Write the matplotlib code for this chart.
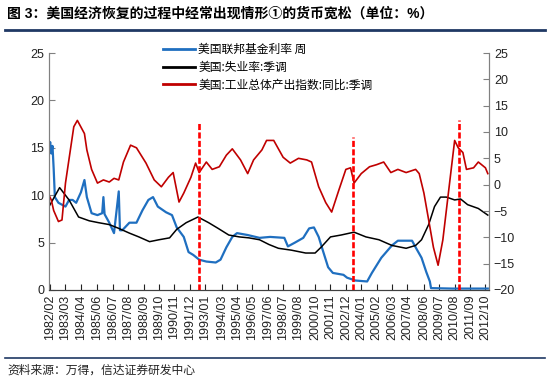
import matplotlib
matplotlib.use('Agg')
from matplotlib import pyplot as plt
from matplotlib.lines import Line2D
import pandas as pd

plt.rcParams['font.family'] = ['Liberation Sans', 'Noto Sans CJK SC']

title = '图 3：美国经济恢复的过程中经常出现情形①的货币宽松（单位：%）'
source = '资料来源：万得，信达证券研发中心'
series_names = ['美国联邦基金利率 周', '美国:失业率:季调', '美国:工业总体产出指数:同比:季调']

tick_labels = ['1982/02', '1983/03', '1984/04', '1985/06', '1986/07', '1987/08',
               '1988/09', '1989/10', '1990/11', '1991/12', '1993/01', '1994/03',
               '1995/04', '1996/05', '1997/06', '1998/07', '1999/08', '2000/10',
               '2001/11', '2002/12', '2004/01', '2005/02', '2006/03', '2007/04',
               '2008/06', '2009/07', '2010/08', '2011/09', '2012/10']

# fed funds rate, weekly (left axis)
fed_dates = ['1982-01', '1982-02', '1982-03', '1982-04', '1982-05', '1982-06',
             '1982-09', '1983-03', '1983-06', '1983-09', '1983-12', '1984-04',
             '1984-07', '1984-09', '1985-01', '1985-06', '1985-10', '1985-11',
             '1985-12', '1986-04', '1986-08', '1986-12', '1987-01', '1987-03',
             '1987-09', '1988-03', '1988-08', '1989-01', '1989-05', '1989-09',
             '1990-04', '1990-09', '1991-01', '1991-07', '1991-11', '1992-03',
             '1992-08', '1993-02', '1993-10', '1994-02', '1994-07', '1994-12',
             '1995-04', '1996-01', '1996-11', '1997-08', '1998-08', '1998-11',
             '1999-05', '1999-12', '2000-05', '2000-09', '2001-01', '2001-05',
             '2001-09', '2002-01', '2002-10', '2003-01', '2003-08', '2004-06',
             '2004-10', '2005-06', '2006-03', '2006-08', '2007-08', '2007-11',
             '2008-04', '2008-08', '2008-11', '2008-12', '2010-06', '2012-12']
fed_rate = [15.0, 15.6, 14.4, 15.2, 12.8, 9.8,
            9.2, 8.8, 9.5, 9.5, 9.2, 10.3,
            11.6, 9.8, 8.1, 7.9, 8.1, 9.8,
            8.0, 7.1, 6.0, 10.4, 6.3, 6.3,
            7.1, 7.1, 8.4, 9.5, 9.8, 8.8,
            8.2, 7.9, 6.6, 5.6, 4.0, 3.7,
            3.2, 3.0, 2.9, 3.2, 4.5, 5.6,
            6.0, 5.8, 5.5, 5.6, 5.5, 4.6,
            5.0, 5.5, 6.5, 6.6, 5.6, 4.0,
            2.4, 1.8, 1.6, 1.3, 1.0, 0.9,
            1.8, 3.4, 4.7, 5.2, 5.2, 4.5,
            3.4, 1.9, 0.9, 0.2, 0.15, 0.15]

# unemployment rate (left axis)
unemp_dates = ['1982-01', '1982-10', '1983-06', '1984-02', '1984-11', '1985-07',
               '1986-04', '1986-12', '1987-09', '1988-05', '1989-02', '1989-10',
               '1990-07', '1991-01', '1991-09', '1992-07', '1993-04', '1993-12',
               '1994-09', '1995-06', '1996-02', '1996-11', '1997-07', '1998-03',
               '1999-02', '2000-02', '2000-10', '2001-03', '2001-11', '2002-08',
               '2003-07', '2004-05', '2005-04', '2006-03', '2007-03', '2007-11',
               '2008-04', '2008-10', '2009-03', '2009-08', '2010-01', '2010-08',
               '2011-01', '2011-07', '2012-04', '2012-12']
unemp_rate = [8.8, 10.8, 9.5, 7.7, 7.3, 7.1,
              6.9, 6.5, 6.0, 5.6, 5.1, 5.3,
              5.5, 6.4, 7.1, 7.7, 7.1, 6.5,
              5.8, 5.6, 5.5, 5.3, 4.8, 4.4,
              4.2, 3.9, 3.9, 4.5, 5.6, 5.8,
              6.1, 5.6, 5.3, 4.7, 4.4, 4.7,
              5.3, 6.9, 8.8, 9.8, 9.8, 9.5,
              9.6, 9.0, 8.6, 7.9]

# industrial production yoy (right axis)
ip_dates = ['1982-01', '1982-03', '1982-05', '1982-09', '1982-12', '1983-03',
            '1983-10', '1984-01', '1984-07', '1984-09', '1985-01', '1985-06',
            '1985-11', '1986-04', '1986-08', '1986-12', '1987-04', '1987-10',
            '1988-03', '1988-11', '1989-06', '1989-12', '1990-06', '1990-10',
            '1991-03', '1991-07', '1992-01', '1992-05', '1992-08', '1993-02',
            '1993-07', '1994-01', '1994-07', '1994-12', '1995-07', '1996-01',
            '1996-06', '1997-01', '1997-05', '1997-11', '1998-07', '1999-01',
            '1999-08', '2000-03', '2000-07', '2001-01', '2001-07', '2001-12',
            '2002-06', '2002-12', '2003-04', '2003-07', '2004-01', '2004-08',
            '2005-02', '2005-08', '2006-02', '2006-08', '2007-03', '2007-11',
            '2008-02', '2008-06', '2008-10', '2009-02', '2009-06', '2009-10',
            '2010-03', '2010-08', '2010-11', '2011-03', '2011-06', '2011-12',
            '2012-04', '2012-10', '2012-12']
ip_yoy = [-2.0, -2.9, -4.9, -7.0, -6.7, 0.3,
          11.0, 12.2, 9.7, 6.6, 2.9, 0.3,
          0.9, 0.5, 1.2, 0.9, 4.3, 7.5,
          7.0, 4.1, 0.9, -0.4, 1.4, 2.3,
          -3.3, -1.6, 1.4, 4.1, 2.3, 4.3,
          2.9, 3.4, 5.6, 6.8, 4.7, 2.1,
          4.7, 6.6, 8.4, 8.4, 5.2, 4.1,
          5.0, 4.7, 4.3, -0.4, -3.4, -5.2,
          -1.1, 2.9, 3.2, 0.3, 2.1, 3.4,
          3.8, 4.3, 2.3, 2.9, 2.3, 2.9,
          2.1, -1.6, -6.7, -11.9, -15.3, -10.5,
          -1.1, 8.4, 7.0, 6.1, 2.9, 3.2,
          4.3, 3.2, 2.1]

# easing markers (right axis units for the top)
easing_dates = ['1992-08', '2003-06', '2010-12']
easing_top = [11.7, 9.0, 12.2]


def to_dates(values):
    return pd.to_datetime(values, format='%Y-%m')


fig = plt.figure(figsize=(5.5, 3.83), dpi=100)
ax1 = fig.add_axes([49 / 550, 1 - 290 / 383, 440 / 550, 237 / 383])
ax2 = ax1.twinx()

l1, = ax1.plot(to_dates(fed_dates), fed_rate, color='#1f6fc0', lw=1.6)
l2, = ax1.plot(to_dates(unemp_dates), unemp_rate, color='black', lw=1.1)
l3, = ax2.plot(to_dates(ip_dates), ip_yoy, color='#c00000', lw=1.2)
ax2.vlines(to_dates(easing_dates), -20, easing_top, colors='#ff0000',
           linestyles=(0, (2.3, 0.9)), lw=1.9, zorder=5)

ax1.set_ylim(0, 25)
ax2.set_ylim(-20, 25)
ax1.set_yticks(range(0, 26, 5))
ax2.set_yticks(range(-20, 26, 5))
ax1.set_xlim(pd.Timestamp('1982-01-01'), pd.Timestamp('2013-01-01'))

tick_pos = pd.to_datetime(tick_labels, format='%Y/%m')
ax1.set_xticks(tick_pos)
ax1.set_xticklabels(tick_labels, rotation=90, fontsize=8.5)

for ax in (ax1, ax2):
    ax.spines['top'].set_visible(False)
    ax.spines['left'].set_color('#808080')
    ax.spines['right'].set_color('#808080')
    ax.spines['bottom'].set_color('#404040')
    ax.tick_params(direction='in', length=4, labelsize=9, colors='#222222')
ax1.tick_params(axis='y', colors='#808080', labelcolor='#222222')
ax2.tick_params(axis='y', colors='#808080', labelcolor='#222222')

ax1.legend([l1, l2, l3], series_names, loc='upper left',
           bbox_to_anchor=(163 / 550, 1 - 43 / 383),
           bbox_transform=fig.transFigure, frameon=False,
           handlelength=2.7, handletextpad=0.3, labelspacing=0.4,
           borderpad=0, borderaxespad=0,
           prop={'family': ['Noto Sans CJK SC'], 'size': 8.5})
for line in ax1.get_legend().get_lines():
    line.set_linewidth(2)

fig.text(7 / 550, 1 - 14 / 383, title, fontsize=10, fontweight='bold',
         va='center', ha='left')
fig.add_artist(Line2D([5 / 550, 545 / 550], [1 - 30 / 383] * 2,
                      color='#1f3864', lw=2, transform=fig.transFigure))
fig.add_artist(Line2D([5 / 550, 545 / 550], [1 - 358 / 383] * 2,
                      color='#1f3864', lw=1.2, transform=fig.transFigure))
fig.text(7 / 550, 1 - 371 / 383, source, fontsize=8.5, va='center', ha='left',
         color='#222222')

fig.savefig('out.png', dpi=100)
